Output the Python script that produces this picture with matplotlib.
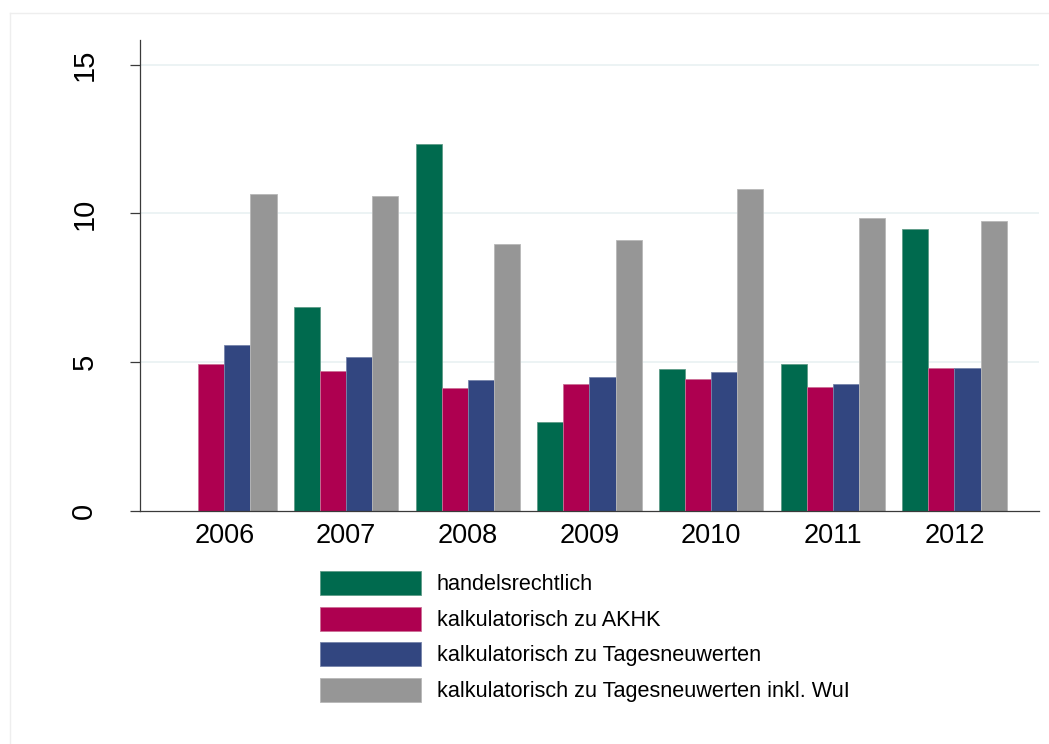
import numpy as np
import matplotlib.pyplot as plt
from matplotlib.lines import Line2D

plt.rcParams['font.family'] = ['Liberation Sans', 'DejaVu Sans']

#----------Daten-------------
jahre = ['2006', '2007', '2008', '2009', '2010', '2011', '2012']
handelsrechtlich = [np.nan, 6.85, 12.33, 2.97, 4.77, 4.94, 9.47]
akhk = [4.93, 4.71, 4.13, 4.25, 4.42, 4.15, 4.80]
tagesneuwerte = [5.58, 5.18, 4.39, 4.49, 4.66, 4.25, 4.80]
tagesneuwerte_wui = [10.66, 10.58, 8.97, 9.10, 10.81, 9.86, 9.75]

labels = ['handelsrechtlich',
          'kalkulatorisch zu AKHK',
          'kalkulatorisch zu Tagesneuwerten',
          'kalkulatorisch zu Tagesneuwerten inkl. WuI']
farben = ['#006a4e', '#ae0050', '#324680', '#969696']
kanten = ['#5e9c88', '#cc6f96', '#7683aa', '#b8b8b8']

fig = plt.figure(figsize=(10.49, 7.44), dpi=100)
ax = fig.add_axes([140/1049, 1-510.5/744, 898.7/1049, 470.5/744])

x = np.arange(len(jahre))
w = 0.2145
serien = [handelsrechtlich, akhk, tagesneuwerte, tagesneuwerte_wui]
for i, s in enumerate(serien):
    ax.bar(x + (i-1.5)*w, s, width=w, color=farben[i], edgecolor=kanten[i],
           linewidth=0.6, label=labels[i], zorder=3)

ax.set_xlim(-0.6935, 6.692)
ax.set_ylim(0, 15.84)
ax.set_yticks([0, 5, 10, 15])
ax.set_xticks(x)
ax.set_xticklabels(jahre)

for yv in [5, 10, 15]:
    ax.axhline(yv, color='#eaf2f3', lw=1.3, zorder=1)

for s in ['top', 'right']:
    ax.spines[s].set_visible(False)
for s in ['left', 'bottom']:
    ax.spines[s].set_color('#3a3a3a')
    ax.spines[s].set_linewidth(0.9)
    ax.spines[s].set_zorder(4)

ax.tick_params(axis='x', length=0, pad=9, labelsize=19.5)
ax.tick_params(axis='y', length=7, width=0.9, color='#3a3a3a', pad=23, labelsize=21)
for t in ax.get_yticklabels():
    t.set_rotation(90)
    t.set_va('center')

leg = ax.legend(loc='upper left', bbox_to_anchor=(320/1049, 1-571/744),
                bbox_transform=fig.transFigure, frameon=False, fontsize=15.6,
                handlelength=4.66, handleheight=1.36, labelspacing=0.51,
                handletextpad=0.74, borderpad=0, borderaxespad=0)

# Rahmen
fig.add_artist(Line2D([10/1049, 10/1049], [0, 1-13/744], color='#eeeeee', lw=1))
fig.add_artist(Line2D([10/1049, 1], [1-13/744, 1-13/744], color='#eeeeee', lw=1))

plt.savefig('out.png', dpi=100)
